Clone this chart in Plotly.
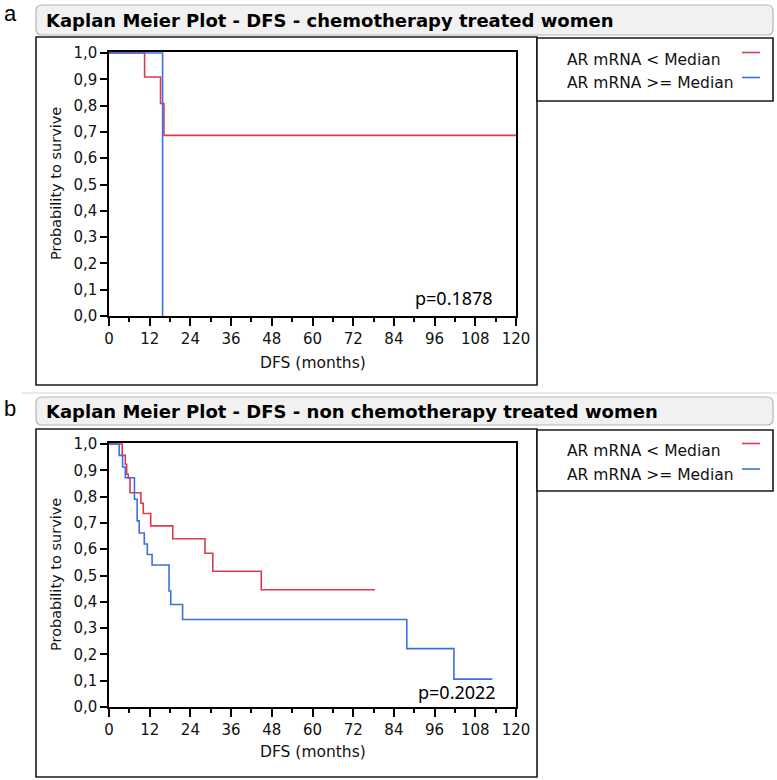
import plotly.graph_objects as go

# ---------------- data ----------------
x_ticks = [0, 12, 24, 36, 48, 60, 72, 84, 96, 108, 120]
series_names = ["AR mRNA < Median", "AR mRNA >= Median"]

# panel a: chemotherapy treated women
a_low_time = [0, 10.5, 15.2, 16.2, 120]
a_low_surv = [1.0, 0.909, 0.808, 0.687, 0.687]
a_high_time = [0, 15.8]
a_high_surv = [1.0, 0.0]
a_pvalue = "p=0.1878"

# panel b: non chemotherapy treated women
b_low_time = [0, 3.9, 4.8, 5.2, 5.7, 6.2, 9.4, 10.1, 12.3, 18.8, 28.3, 30.6, 44.9, 78.4]
b_low_surv = [1.0, 0.957, 0.923, 0.885, 0.870, 0.815, 0.775, 0.736, 0.689, 0.640, 0.585, 0.516, 0.446, 0.446]
b_high_time = [0, 3.0, 4.0, 4.8, 7.5, 8.3, 8.9, 10.4, 11.3, 12.7, 17.7, 18.2, 21.7, 87.8, 101.7, 113]
b_high_surv = [1.0, 0.957, 0.913, 0.872, 0.790, 0.708, 0.662, 0.620, 0.580, 0.540, 0.441, 0.390, 0.333, 0.222, 0.106, 0.106]
b_pvalue = "p=0.2022"

titles = ["Kaplan Meier Plot - DFS - chemotherapy treated women",
          "Kaplan Meier Plot - DFS - non chemotherapy treated women"]
panel_letters = ["a", "b"]

# ---------------- style ----------------
W, H = 777, 780
RED = "#dc3b4e"
BLUE = "#3c6fe4"
FONT = "DejaVu Sans"
TXT = "#111111"


def px(x):
    return x / W


def py(y):
    return 1 - y / H


fig = go.Figure()

fig.add_trace(go.Scatter(x=a_low_time, y=a_low_surv, mode="lines", line=dict(color=RED, width=1.6, shape="hv"),
                         xaxis="x", yaxis="y", showlegend=False, name=series_names[0]))
fig.add_trace(go.Scatter(x=a_high_time, y=a_high_surv, mode="lines", line=dict(color=BLUE, width=1.6, shape="hv"),
                         xaxis="x", yaxis="y", showlegend=False, name=series_names[1]))
fig.add_trace(go.Scatter(x=b_low_time, y=b_low_surv, mode="lines", line=dict(color=RED, width=1.6, shape="hv"),
                         xaxis="x2", yaxis="y2", showlegend=False, name=series_names[0]))
fig.add_trace(go.Scatter(x=b_high_time, y=b_high_surv, mode="lines", line=dict(color=BLUE, width=1.6, shape="hv"),
                         xaxis="x2", yaxis="y2", showlegend=False, name=series_names[1]))

xdom = [px(109), px(516)]
xcommon = dict(domain=xdom, range=[0, 120], tickvals=x_ticks, ticks="outside", ticklen=8, tickwidth=1.5,
               tickcolor="black", showline=True, linecolor="black", linewidth=1.5, mirror=True,
               showgrid=False, zeroline=False, fixedrange=True, automargin=False,
               tickfont=dict(family=FONT, size=15, color=TXT),
               minor=dict(dtick=6, ticks="outside", ticklen=4, tickwidth=1.5, tickcolor="black", showgrid=False))
ycommon = dict(range=[0, 1.004], tickvals=[i / 10 for i in range(11)], tickformat=".1f", ticks="outside",
               ticklen=7, tickwidth=1.5, tickcolor="black", showline=True, linecolor="black", linewidth=1.5,
               mirror=True, showgrid=False, zeroline=False, fixedrange=True, automargin=False,
               tickfont=dict(family=FONT, size=15, color=TXT))

fig.update_layout(
    template="none",
    width=W, height=H, margin=dict(l=0, r=0, t=0, b=0, pad=0, autoexpand=False),
    paper_bgcolor="white", plot_bgcolor="white", separators=", ",
    xaxis=dict(anchor="y", **xcommon),
    yaxis=dict(anchor="x", domain=[py(316), py(52)], **ycommon),
    xaxis2=dict(anchor="y2", **xcommon),
    yaxis2=dict(anchor="x2", domain=[py(707), py(443)], **ycommon),
)

shapes = []
annotations = []


def rounded_box(x0, y0, x1, y1, r):
    X0, X1 = px(x0), px(x1)
    Y0, Y1 = py(y0), py(y1)
    rx, ry = r / W, r / H
    return (f"M {X0 + rx},{Y0} L {X1 - rx},{Y0} Q {X1},{Y0} {X1},{Y0 - ry} "
            f"L {X1},{Y1 + ry} Q {X1},{Y1} {X1 - rx},{Y1} L {X0 + rx},{Y1} "
            f"Q {X0},{Y1} {X0},{Y1 + ry} L {X0},{Y0 - ry} Q {X0},{Y0} {X0 + rx},{Y0} Z")


panels = [
    dict(title_box=(36, 5, 773, 35), title_y=20, letter_top=0, frame=(36, 37, 537, 385), legend=(537, 38, 773, 101),
         leg_text_y=[60, 83], leg_line_y=[52.5, 77.5], p_xy=(495, 298), p=a_pvalue, xt_y=363, yt_y=184),
    dict(title_box=(36, 397, 773, 425), title_y=411, letter_top=395, frame=(36, 429, 537, 777), legend=(537, 430, 773, 491),
         leg_text_y=[451, 475], leg_line_y=[443.5, 469], p_xy=(498, 692), p=b_pvalue, xt_y=752, yt_y=575),
]

for i, pnl in enumerate(panels):
    x0, y0, x1, y1 = pnl["title_box"]
    shapes.append(dict(type="path", xref="paper", yref="paper", path=rounded_box(x0, y0, x1, y1, 6),
                       fillcolor="#f1f1f1", line=dict(color="#b5b5b5", width=1.2), layer="below"))
    annotations.append(dict(text=titles[i], x=px(44), y=py(pnl["title_y"]), xref="paper", yref="paper",
                            xanchor="left", yanchor="middle", showarrow=False,
                            font=dict(family=FONT, size=18, color="#000000", weight="bold")))
    annotations.append(dict(text=panel_letters[i], x=px(3), y=py(pnl["letter_top"]), xref="paper", yref="paper",
                            xanchor="left", yanchor="top", showarrow=False, borderpad=0,
                            font=dict(family="Liberation Sans", size=22, color="#000000")))
    fx0, fy0, fx1, fy1 = pnl["frame"]
    shapes.append(dict(type="rect", xref="paper", yref="paper", x0=px(fx0), x1=px(fx1), y0=py(fy1), y1=py(fy0),
                       line=dict(color="#1a1a1a", width=1.6), fillcolor="rgba(0,0,0,0)"))
    lx0, ly0, lx1, ly1 = pnl["legend"]
    shapes.append(dict(type="rect", xref="paper", yref="paper", x0=px(lx0), x1=px(lx1), y0=py(ly1), y1=py(ly0),
                       line=dict(color="#1a1a1a", width=1.6), fillcolor="white"))
    for k, col in enumerate([RED, BLUE]):
        annotations.append(dict(text=series_names[k].replace("<", "&lt;").replace(">", "&gt;"),
                                x=px(565), y=py(pnl["leg_text_y"][k]), xref="paper", yref="paper",
                                xanchor="left", yanchor="middle", showarrow=False,
                                font=dict(family=FONT, size=15.5, color=TXT)))
        shapes.append(dict(type="line", xref="paper", yref="paper", x0=px(742), x1=px(760),
                           y0=py(pnl["leg_line_y"][k]), y1=py(pnl["leg_line_y"][k]),
                           line=dict(color=col, width=1.6)))
    annotations.append(dict(text=pnl["p"], x=px(pnl["p_xy"][0]), y=py(pnl["p_xy"][1]), xref="paper", yref="paper",
                            xanchor="right", yanchor="middle", showarrow=False,
                            font=dict(family="Noto Sans", size=18, color="#000000")))
    annotations.append(dict(text="DFS (months)", x=px(313), y=py(pnl["xt_y"]), xref="paper", yref="paper",
                            xanchor="center", yanchor="middle", showarrow=False,
                            font=dict(family=FONT, size=15.5, color=TXT)))
    annotations.append(dict(text="Probability to survive", x=px(56), y=py(pnl["yt_y"]), xref="paper", yref="paper",
                            xanchor="center", yanchor="middle", showarrow=False, textangle=-90,
                            font=dict(family=FONT, size=14.5, color=TXT)))

# separator line between panels
shapes.append(dict(type="line", xref="paper", yref="paper", x0=px(22), x1=1, y0=py(393), y1=py(393),
                   line=dict(color="#d4d4d4", width=1.2)))

fig.update_layout(shapes=shapes, annotations=annotations)
fig.write_html("out.html", config={"displayModeBar": False},
               post_script="document.body.style.margin='0px';document.body.style.overflow='hidden';")
